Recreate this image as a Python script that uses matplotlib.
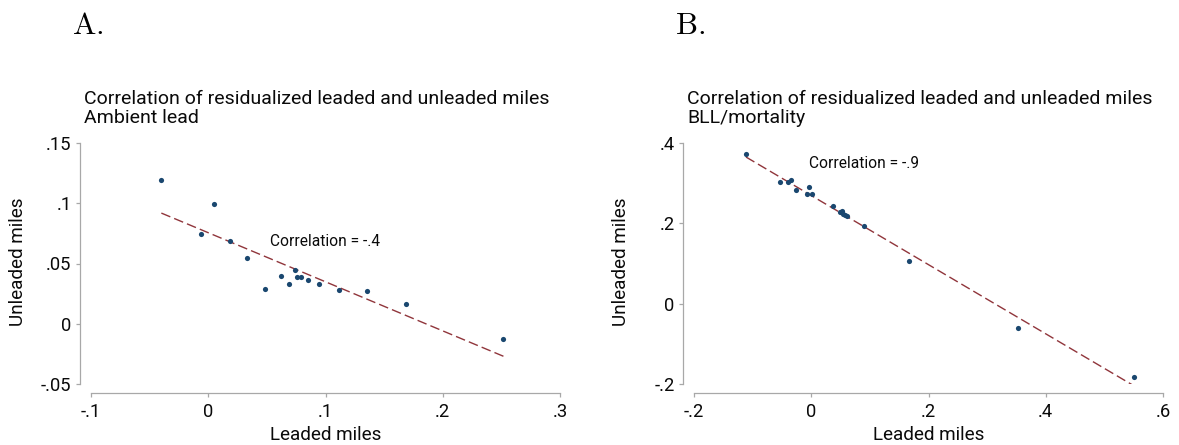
import numpy as np
import matplotlib
matplotlib.use("Agg")
import matplotlib.pyplot as plt

plt.rcParams['font.family'] = ['Roboto', 'DejaVu Sans']
plt.rcParams['mathtext.fontset'] = 'cm'

# Panel A: Ambient lead
a_leaded = [-0.040, 0.0046, -0.0065, 0.0189, 0.0329, 0.0485, 0.0619, 0.0691, 0.0743,
            0.0756, 0.0788, 0.0847, 0.0948, 0.1114, 0.1355, 0.1687, 0.2518]
a_unleaded = [0.1197, 0.0997, 0.0748, 0.0685, 0.0548, 0.0290, 0.0397, 0.0332, 0.0447,
              0.0392, 0.0384, 0.0362, 0.0326, 0.0282, 0.0271, 0.0162, -0.0129]
a_xticks = [-0.1, 0, 0.1, 0.2, 0.3]
a_xticklabels = ['-.1', '0', '.1', '.2', '.3']
a_yticks = [-0.05, 0, 0.05, 0.1, 0.15]
a_yticklabels = ['-.05', '0', '.05', '.1', '.15']
a_corr = '-.4'

# Panel B: BLL/mortality
b_leaded = [-0.1113, -0.0541, -0.0403, -0.034, -0.0252, -0.0075, -0.0038, 0.0019, 0.0365,
            0.049, 0.0516, 0.0535, 0.0572, 0.0604, 0.0899, 0.166, 0.3535, 0.5503]
b_unleaded = [0.372, 0.3037, 0.302, 0.307, 0.283, 0.272, 0.2905, 0.272, 0.242,
              0.228, 0.2305, 0.223, 0.2214, 0.218, 0.1926, 0.1053, -0.0617, -0.1819]
b_xticks = [-0.2, 0, 0.2, 0.4, 0.6]
b_xticklabels = ['-.2', '0', '.2', '.4', '.6']
b_yticks = [-0.2, 0, 0.2, 0.4]
b_yticklabels = ['-.2', '0', '.2', '.4']
b_corr = '-.9'

W, H = 1179, 445
fig = plt.figure(figsize=(W / 100, H / 100), dpi=100)

NAVY = '#1a476f'
MAROON = '#90353b'
AXC = '#a8a8a8'
TXT = '#0a0a0a'


def panel(left_px, letter, subtitle, x, y, xt, xtl, yt, ytl, corr, corr_xy):
    ax = fig.add_axes([left_px / W, 61 / H, 469 / W, 241 / H])
    ax.set_xlim(xt[0], xt[-1])
    ax.set_ylim(yt[0], yt[-1])
    x = np.asarray(x)
    y = np.asarray(y)
    m, c = np.polyfit(x, y, 1)
    xs = np.array([x.min(), x.max()])
    ax.plot(xs, m * xs + c, color=MAROON, lw=1.0, dashes=(7, 3), zorder=2)
    ax.scatter(x, y, s=14, color=NAVY, zorder=3, linewidths=0)
    ax.set_xticks(xt)
    ax.set_xticklabels(xtl)
    ax.set_yticks(yt)
    ax.set_yticklabels(ytl)
    for s in ['top', 'right']:
        ax.spines[s].set_visible(False)
    ax.spines['left'].set_position(('outward', 8))
    ax.spines['bottom'].set_position(('outward', 6.5))
    for s in ['left', 'bottom']:
        ax.spines[s].set_color(AXC)
        ax.spines[s].set_linewidth(0.9)
    ax.tick_params(axis='both', direction='out', length=3, width=0.9, color=AXC,
                   labelsize=13.2, labelcolor=TXT)
    ax.tick_params(axis='y', pad=3)
    ax.tick_params(axis='x', pad=4.5)
    ax.set_xlabel('Leaded miles', fontsize=13.6, color=TXT)
    ax.xaxis.label.set_va('center')
    ax.xaxis.set_label_coords(0.5, -0.212)
    ax.set_ylabel('Unleaded miles', fontsize=13.6, color=TXT)
    ax.yaxis.label.set_va('center')
    ax.yaxis.set_label_coords(-0.155, 0.506)
    ax.text(corr_xy[0], corr_xy[1], 'Correlation = ' + corr, fontsize=11.2,
            ha='left', va='center', color=TXT)
    ax.patch.set_visible(False)
    off = left_px - 91
    fig.text((72 + off) / W, 1 - 25 / H, r'$\mathrm{' + letter + '.}$', fontsize=22.5,
             ha='left', va='center')
    fig.text((84 + off) / W, 1 - 99 / H, 'Correlation of residualized leaded and unleaded miles',
             fontsize=14, ha='left', va='center', color=TXT)
    fig.text((84 + off) / W, 1 - 118 / H, subtitle, fontsize=14, ha='left', va='center',
             color=TXT)
    return ax


panel(91, 'A', 'Ambient lead', a_leaded, a_unleaded, a_xticks, a_xticklabels,
      a_yticks, a_yticklabels, a_corr, (0.053, 0.068))
panel(694, 'B', 'BLL/mortality', b_leaded, b_unleaded, b_xticks, b_xticklabels,
      b_yticks, b_yticklabels, b_corr, (-0.004, 0.348))

fig.savefig('out.png', dpi=100)
